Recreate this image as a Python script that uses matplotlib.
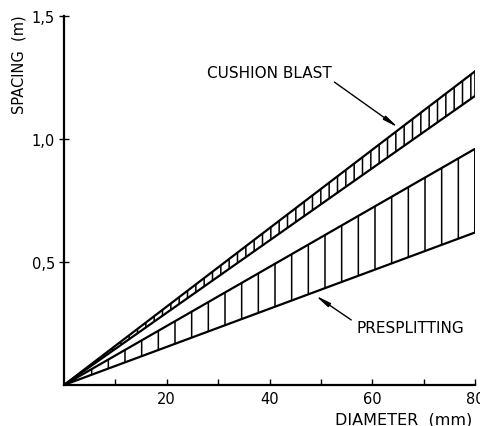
import matplotlib
matplotlib.use("Agg")
import matplotlib.pyplot as plt
import numpy as np

# Data
diameter = [0, 80]                 # mm
cushion_upper = [0.0, 1.275]       # m
cushion_lower = [0.0, 1.175]
presplit_upper = [0.0, 0.96]
presplit_lower = [0.0, 0.62]
xticks = [20, 40, 60, 80]
xticks_minor = [10, 30, 50, 70]
yticks = [0.5, 1.0, 1.5]
ytick_labels = ["0,5", "1,0", "1,5"]

plt.rcParams['font.family'] = ['DejaVu Sans']
plt.rcParams['hatch.linewidth'] = 1.1

fig = plt.figure(figsize=(4.81, 4.27), dpi=100)
ax = fig.add_axes([64/481, 41/427, 411/481, 369/427])

# Bands
ax.fill_between(diameter, presplit_lower, presplit_upper, facecolor='none',
                edgecolor='black', hatch='|', linewidth=0)
ax.fill_between(diameter, cushion_lower, cushion_upper, facecolor='none',
                edgecolor='black', hatch='||', linewidth=0)
for ys in (cushion_upper, cushion_lower, presplit_upper, presplit_lower):
    ax.plot(diameter, ys, color='black', lw=1.6, solid_capstyle='butt')
# right closing edges
ax.plot([diameter[-1]] * 2, [cushion_lower[-1], cushion_upper[-1]], color='black', lw=1.2)
ax.plot([diameter[-1]] * 2, [presplit_lower[-1], presplit_upper[-1]], color='black', lw=1.2)

ax.set_xlim(0, 80)
ax.set_ylim(0, 1.5)
for s in ('top', 'right'):
    ax.spines[s].set_visible(False)
for s in ('left', 'bottom'):
    ax.spines[s].set_linewidth(1.6)

ax.set_xticks(xticks)
ax.set_xticks(xticks_minor, minor=True)
ax.set_xticklabels([str(v) for v in xticks], fontsize=10.5)
ax.tick_params(axis='x', which='both', direction='in', length=4, width=1.0, pad=4)
ax.set_yticks(yticks)
ax.set_yticklabels(ytick_labels, fontsize=10.5)
ax.tick_params(axis='y', direction='inout', length=7, width=1.0, pad=3)

ax.text(-0.11, 0.87, "SPACING  (m)", transform=ax.transAxes, rotation=90,
        ha='center', va='center', fontsize=10.5)
fig.text(335/481, 7/427, "DIAMETER  (mm)", ha='left', va='center', fontsize=11.5)

# Annotations
ax.annotate("CUSHION BLAST", xy=(65.5, 1.04), xytext=(27.8, 1.27),
            fontsize=11, va='center', ha='left',
            arrowprops=dict(arrowstyle='-|>,head_length=0.8,head_width=0.12',
                            color='black', lw=1.0, shrinkA=0,
                            relpos=(1.0, 0.0)))
ax.annotate("PRESPLITTING", xy=(48.5, 0.37), xytext=(56.9, 0.232),
            fontsize=11, va='center', ha='left',
            arrowprops=dict(arrowstyle='-|>,head_length=0.8,head_width=0.12',
                            color='black', lw=1.0, shrinkA=2,
                            relpos=(0.0, 0.8)))

fig.savefig("out.png", dpi=100)
